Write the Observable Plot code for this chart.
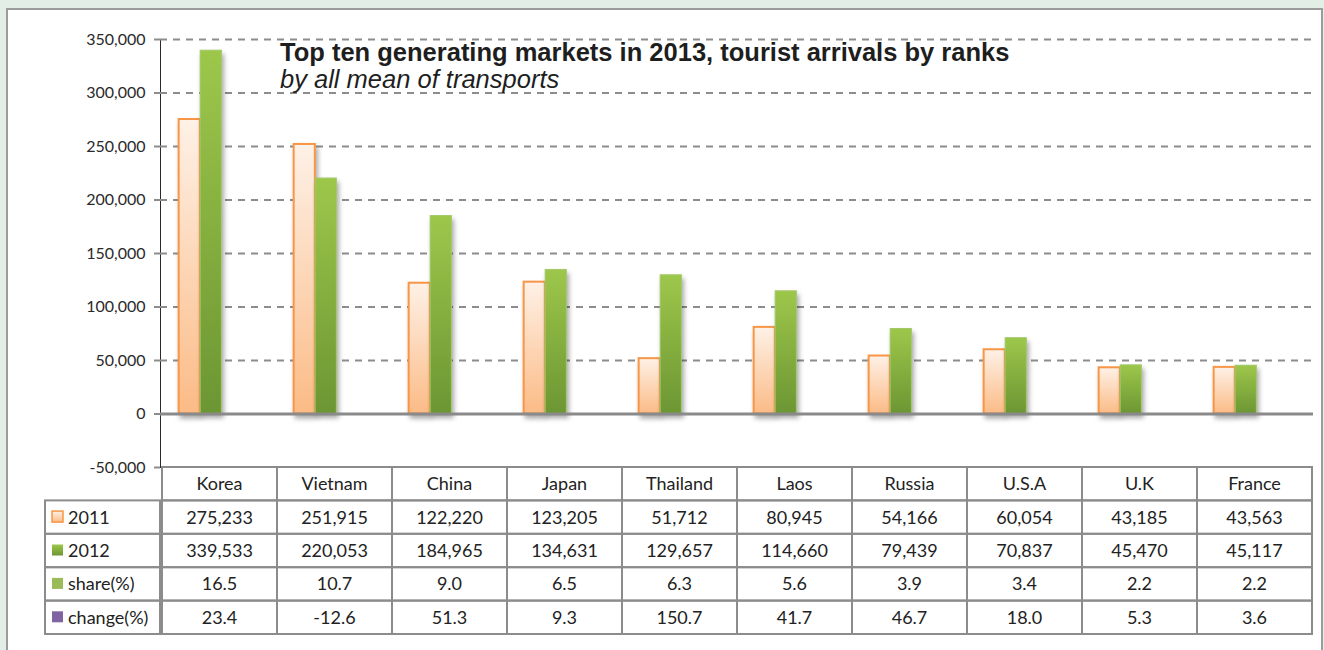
<!DOCTYPE html>
<html><head><meta charset="utf-8">
<script src="https://cdn.jsdelivr.net/npm/d3@7"></script>
<script src="https://cdn.jsdelivr.net/npm/@observablehq/plot@0.6"></script>
<style>
html,body{margin:0;padding:0;}
body{width:1324px;height:650px;background:#e3eee6;position:relative;overflow:hidden;}
#frame{position:absolute;left:6px;top:8px;width:1317px;height:700px;background:#fff;border:2px solid #9c9c9c;box-sizing:border-box;}
#chart{position:absolute;left:0;top:0;}
#chart svg{overflow:visible;}
#chart g[aria-label^="y-axis"] line, #chart g[aria-label^="y-axis"] path{stroke:#8c8c8c;stroke-width:2px;}
#chart g[aria-label^="y-axis"] text{fill:#2a2a2a;font-size:16px;}
</style></head>
<body><div id="frame"></div><div id="chart"></div>
<script>
const countries = ["Korea","Vietnam","China","Japan","Thailand","Laos","Russia","U.S.A","U.K","France"];
const v2011 = [275233,251915,122220,123205,51712,80945,54166,60054,43185,43563];
const v2012 = [339533,220053,184965,134631,129657,114660,79439,70837,45470,45117];
const share = [16.5,10.7,9.0,6.5,6.3,5.6,3.9,3.4,2.2,2.2];
const change = [23.4,-12.6,51.3,9.3,150.7,41.7,46.7,18.0,5.3,3.6];
const yTicks = [-50000,0,50000,100000,150000,200000,250000,300000,350000];
const gridTicks = [50000,100000,150000,200000,250000,300000,350000];
const rowLabels = ["2011","2012","share(%)","change(%)"];
const title = "Top ten generating markets in 2013, tourist arrivals by ranks";
const subtitle = "by all mean of transports";

const W = 1324, H = 650, ML = 160, MR = 11, MT = 39, MB = 183;
const rows = countries.map((c, i) => ({country: c, v2011: v2011[i], v2012: v2012[i]}));
const bw = (W - ML - MR) / countries.length;
const fmtAxis = d => d3.format(",")(d).replace("\u2212", "-");

const plot = Plot.plot({
  width: W, height: H,
  marginLeft: ML, marginRight: MR, marginTop: MT, marginBottom: MB,
  style: {background: "transparent", fontFamily: "Lato, sans-serif", fontSize: "16px", color: "#2a2a2a", overflow: "visible"},
  x: {type: "band", domain: countries, padding: 0, axis: null},
  y: {domain: [-50000, 350000], ticks: yTicks, tickFormat: fmtAxis, tickSize: 6, tickPadding: 9, label: null, line: true},
  marks: [
    Plot.ruleY(gridTicks, {stroke: "#8c8c8c", strokeWidth: 2, strokeDasharray: "7,6"}),
    Plot.barY(rows, {x: "country", y: "v2011", fill: "url(#g2011)", stroke: "#f79646", strokeWidth: 2,
      insetLeft: bw / 2 - 41, insetRight: bw / 2 + 19.5}),
    Plot.barY(rows, {x: "country", y: "v2012", fill: "url(#g2012)", stroke: "#a2c86a", strokeWidth: 1,
      insetLeft: bw / 2 - 19.5, insetRight: bw / 2 - 2}),
    Plot.ruleY([0], {stroke: "#8a8a8a", strokeWidth: 3})
  ]
});
document.getElementById("chart").appendChild(plot);

const svg = d3.select(plot.tagName.toLowerCase() === "svg" ? plot : plot.querySelector("svg"));
const defs = svg.insert("defs", ":first-child");
const g1 = defs.append("linearGradient").attr("id", "g2011").attr("x1", 0).attr("y1", 0).attr("x2", 0).attr("y2", 1);
g1.append("stop").attr("offset", "0%").attr("stop-color", "#fef1e7");
g1.append("stop").attr("offset", "100%").attr("stop-color", "#fbbb86");
const g2 = defs.append("linearGradient").attr("id", "g2012").attr("x1", 0).attr("y1", 0).attr("x2", 0).attr("y2", 1);
g2.append("stop").attr("offset", "0%").attr("stop-color", "#9dc74a");
g2.append("stop").attr("offset", "100%").attr("stop-color", "#6c9633");
const f = defs.append("filter").attr("id", "sh").attr("x", "-30%").attr("y", "-5%").attr("width", "170%").attr("height", "115%");
f.append("feDropShadow").attr("dx", 2).attr("dy", 4).attr("stdDeviation", 2.5).attr("flood-color", "#000").attr("flood-opacity", 0.35);
svg.selectAll('g[aria-label="bar"]').attr("filter", "url(#sh)");

// title
svg.append("text").attr("x", 280).attr("y", 61).attr("text-anchor", "start")
  .attr("font-family", "'Liberation Sans', Arial, sans-serif").attr("font-weight", "bold")
  .attr("font-size", 25.5).attr("fill", "#1e1e1e").text(title);
svg.append("text").attr("x", 280).attr("y", 88).attr("text-anchor", "start")
  .attr("font-family", "'Liberation Sans', Arial, sans-serif").attr("font-style", "italic")
  .attr("font-size", 25.5).attr("fill", "#1e1e1e").text(subtitle);

// data table aligned on the plot's x scale
const xs = plot.scale("x");
const ys = plot.scale("y");
const colX = c => (xs.apply ? xs.apply(c) : ML + countries.indexOf(c) * bw);
const colW = xs.bandwidth || bw;
const top0 = ys.apply ? ys.apply(-50000) : H - MB;
const rh = 33.4;
const labelX0 = 45;
const tbl = svg.append("g").attr("font-family", "Lato, sans-serif").attr("font-size", 18).attr("fill", "#222");
const borderColor = "#8c8c8c";
countries.forEach(c => {
  tbl.append("rect").attr("x", colX(c)).attr("y", top0).attr("width", colW).attr("height", rh)
    .attr("fill", "none").attr("stroke", borderColor).attr("stroke-width", 2);
  tbl.append("text").attr("x", colX(c) + colW / 2).attr("y", top0 + rh / 2).attr("dy", "0.36em")
    .attr("text-anchor", "middle").text(c);
});
const tableRows = [
  {label: rowLabels[0], sw: "url(#g2011)", swStroke: "#f79646", vals: v2011.map(d3.format(","))},
  {label: rowLabels[1], sw: "url(#g2012)", swStroke: "none", vals: v2012.map(d3.format(","))},
  {label: rowLabels[2], sw: "#9bbb59", swStroke: "none", vals: share.map(d => d.toFixed(1))},
  {label: rowLabels[3], sw: "#8064a2", swStroke: "none", vals: change.map(d => d.toFixed(1))}
];
tableRows.forEach((r, i) => {
  const y0 = top0 + rh * (i + 1);
  tbl.append("rect").attr("x", labelX0).attr("y", y0).attr("width", ML - labelX0).attr("height", rh)
    .attr("fill", "none").attr("stroke", borderColor).attr("stroke-width", 2);
  tbl.append("rect").attr("x", 52).attr("y", y0 + rh / 2 - 6).attr("width", 11).attr("height", 11)
    .attr("fill", r.sw).attr("stroke", r.swStroke).attr("stroke-width", r.swStroke === "none" ? 0 : 1.5);
  tbl.append("text").attr("x", 68).attr("y", y0 + rh / 2).attr("dy", "0.36em")
    .attr("text-anchor", "start").text(r.label);
  countries.forEach((c, j) => {
    tbl.append("rect").attr("x", colX(c)).attr("y", y0).attr("width", colW).attr("height", rh)
      .attr("fill", "none").attr("stroke", borderColor).attr("stroke-width", 2);
    tbl.append("text").attr("x", colX(c) + colW / 2).attr("y", y0 + rh / 2).attr("dy", "0.36em")
      .attr("text-anchor", "middle").text(r.vals[j]);
  });
});
</script>
</body></html>
